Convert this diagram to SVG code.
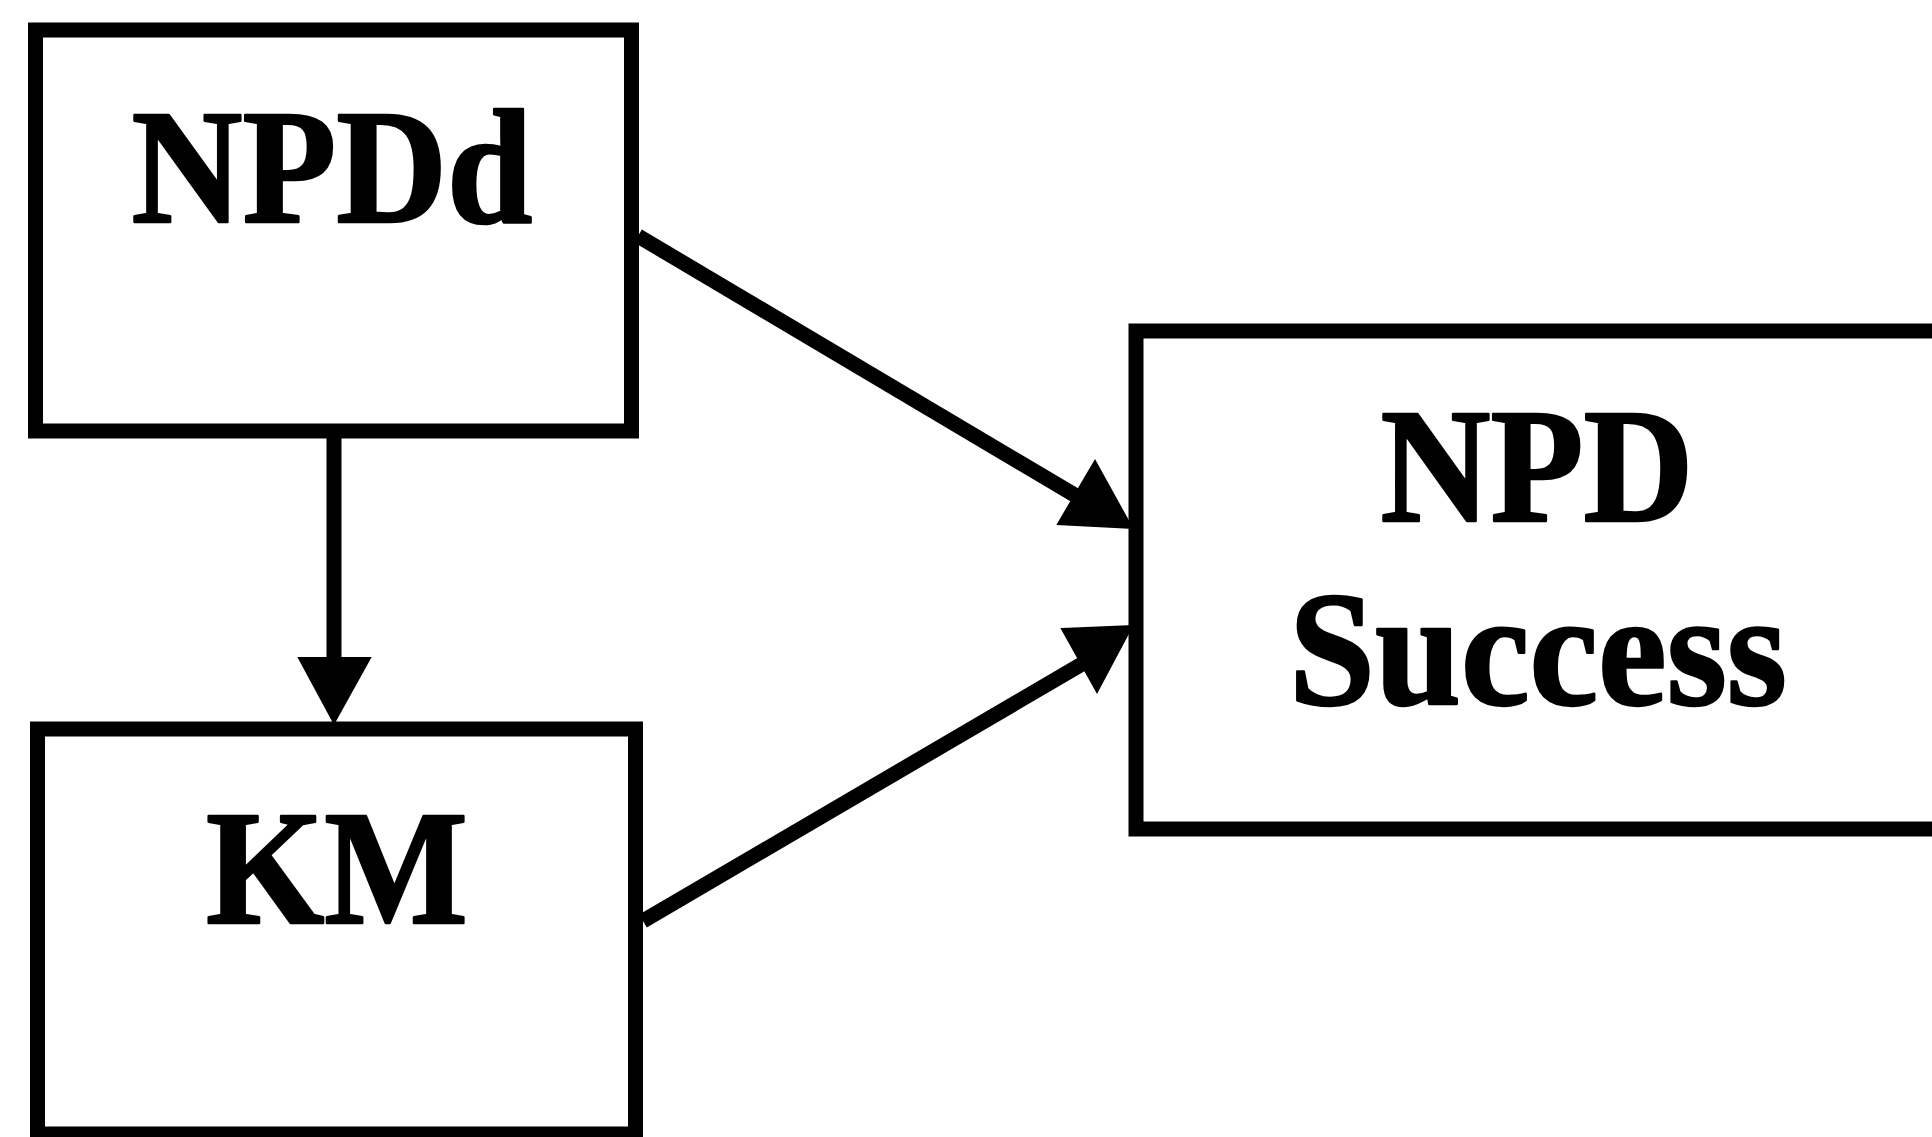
<svg xmlns="http://www.w3.org/2000/svg" width="1932" height="1137" viewBox="0 0 1932 1137">
  <style>
    .box { fill: #ffffff; stroke: #000000; stroke-width: 15; }
    .lbl { font-family: "Liberation Serif", "Times New Roman", serif; font-weight: 700; font-size: 164px; fill: #000000; stroke: #000000; stroke-width: 2.5; stroke-linejoin: round; text-anchor: middle; }
    .edge { stroke: #000000; stroke-width: 15; fill: none; }
    .head { fill: #000000; stroke: #000000; stroke-width: 2; stroke-linejoin: miter; }
  </style>
  <rect x="0" y="0" width="1932" height="1137" fill="#ffffff"/>
  <g id="connectors">
    <line class="edge" x1="334" y1="436" x2="334" y2="662"/>
    <polygon class="head" points="299,658 370,658 334,723"/>
    <line class="edge" x1="638" y1="236" x2="1078" y2="497"/>
    <polygon class="head" points="1095,461 1058,524 1132,528"/>
    <line class="edge" x1="643" y1="921" x2="1082" y2="664"/>
    <polygon class="head" points="1062,629 1132,626 1097,692"/>
  </g>
  <g id="node-npdd">
    <rect class="box" x="35.5" y="30" width="596" height="401"/>
    <text class="lbl" x="332" y="222" textLength="401" lengthAdjust="spacingAndGlyphs">NPDd</text>
  </g>
  <g id="node-km">
    <rect class="box" x="37.5" y="729" width="598" height="405"/>
    <text class="lbl" x="337" y="923" textLength="262" lengthAdjust="spacingAndGlyphs">KM</text>
  </g>
  <g id="node-npd-success">
    <rect class="box" x="1136" y="331" width="820" height="498"/>
    <text class="lbl" x="1537" y="521" textLength="313" lengthAdjust="spacingAndGlyphs">NPD</text>
    <text class="lbl" x="1538" y="704" textLength="498" lengthAdjust="spacingAndGlyphs">Success</text>
  </g>
</svg>
